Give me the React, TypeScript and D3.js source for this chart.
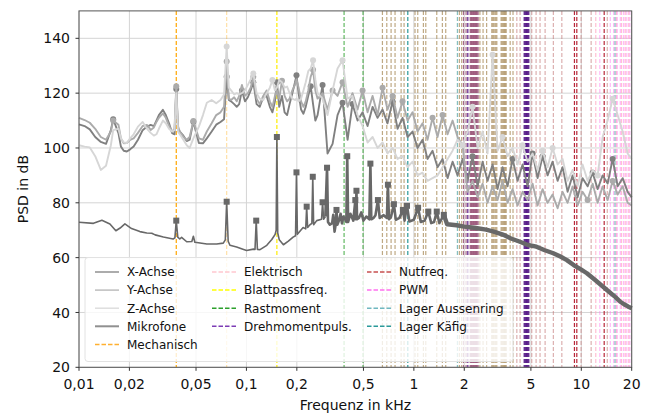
import * as d3 from "d3";
import { useEffect, useRef } from "react";

// axis ticks
const xTickValues = [0.01, 0.02, 0.05, 0.1, 0.2, 0.5, 1, 2, 5, 10, 20];
const xTickLabels = ["0,01", "0,02", "0,05", "0,1", "0,2", "0,5", "1", "2", "5", "10", "20"];
const yTickValues = [20, 40, 60, 80, 100, 120, 140];

// frequency grid of the accelerometer spectra (kHz)
const vibFreqs = [
  0.010, 0.0108, 0.0116, 0.0125, 0.0135, 0.0145, 0.0155, 0.016, 0.0172, 0.0178,
  0.0185, 0.0193, 0.0202, 0.0212, 0.0225, 0.024, 0.0255, 0.0268, 0.028, 0.029,
  0.030, 0.0317, 0.033, 0.0345, 0.036, 0.0372, 0.0381, 0.039, 0.040, 0.042,
  0.044, 0.0458, 0.0482, 0.052, 0.055, 0.058, 0.062, 0.066, 0.070, 0.0735,
  0.0762, 0.0785, 0.081, 0.0845, 0.0875, 0.0905, 0.094, 0.098, 0.102, 0.106,
  0.110, 0.115, 0.120, 0.126, 0.132, 0.138, 0.143, 0.148, 0.152, 0.157,
  0.163, 0.169, 0.175, 0.181, 0.188, 0.195, 0.199, 0.205, 0.212, 0.219,
  0.226, 0.234, 0.242, 0.250, 0.258, 0.266,
  0.285, 0.305, 0.327, 0.350, 0.375, 0.402, 0.430, 0.461, 0.494, 0.529,
  0.567, 0.607, 0.650, 0.696, 0.746, 0.799, 0.856, 0.917, 0.982, 1.052,
  1.127, 1.207, 1.293, 1.385, 1.484, 1.590, 1.703, 1.824, 1.954, 2.093,
  2.242, 2.402, 2.573, 2.756, 2.952, 3.162, 3.387, 3.628, 3.887, 4.164,
  4.460, 4.778, 5.118, 5.482, 5.873, 6.291, 6.739, 7.219, 7.733, 8.284,
  8.874, 9.506, 10.18, 10.91, 11.69, 12.52, 13.41, 14.37, 15.39, 16.49,
  17.66, 18.92, 20.0,
];

// PSD in dB
const xAchse = [
  108.6, 108, 106.8, 104, 102.2, 101.5, 106.5, 110.5, 105.4, 100.5,
  99, 98.7, 99.5, 100.5, 103, 106.5, 107.8, 108.4, 108, 110,
  112, 113.9, 112, 109, 105.4, 105, 121.5, 107, 106, 104.5,
  102.5, 103, 109.6, 101.8, 101.7, 103.5, 106, 108.5, 109.5, 110.5,
  126, 117.5, 117, 116, 115, 116, 121, 117, 118.5, 121,
  124, 116, 115, 118.5, 119, 115, 113, 117, 124, 115,
  119, 113, 112, 116, 120, 124, 126.5, 120, 114, 112.5,
  115, 119, 122.5, 116, 110, 112,
  123, 98, 101.5, 112, 116.5, 103, 116, 110, 113, 108,
  115, 111, 114, 109, 117, 107, 111, 104, 106, 100,
  103, 96, 99, 93, 96, 89, 95, 90, 96, 88,
  97, 86, 95, 88, 94, 85, 93, 86, 96, 88,
  94, 86, 98, 89, 97, 90, 95, 88, 93, 84,
  90, 82, 89, 86, 91, 85, 90, 87, 96, 86,
  89, 84, 82,
];
const yAchse = [
  111, 110.2, 109.2, 107, 104, 103, 106, 110, 108.5, 103.5,
  101.7, 101.8, 103, 103.5, 105.5, 108, 108.4, 106.6, 107.5, 109.5,
  111, 112.6, 111, 108, 106, 107, 122.5, 108, 106, 104,
  103, 104, 109.8, 103.5, 103, 106, 109, 112, 113, 115,
  131.5, 118, 117.5, 118.5, 117, 119, 123, 119, 120, 122,
  126, 118, 116, 119, 121, 117, 115, 119, 121, 118,
  124.5, 119, 117, 118, 121, 123, 125, 122, 117, 115,
  117, 121, 126, 128.5, 121, 118,
  120, 114, 121, 119, 124, 115, 120, 114, 121, 113,
  119, 112, 122, 114, 119, 111, 117, 110, 113, 106,
  109, 103, 111, 104, 112, 105, 110, 104, 101, 84,
  88, 82, 87, 80, 86, 81, 88, 80, 85, 79,
  84, 81, 87, 79, 85, 80, 83, 78, 84, 80,
  86, 79, 84, 81, 87, 80, 86, 81, 88, 83,
  86, 80, 79,
];
const zAchse = [
  101, 100.5, 100.2, 97, 92, 93.5, 101, 106.5, 107, 103.5,
  102, 101.8, 103.5, 105, 107.8, 109.5, 107, 105.5, 104.5, 105,
  107, 110, 109, 107, 106, 106.5, 120, 106, 105, 103,
  101, 100, 103.5, 107.8, 112, 116.5, 117.5, 116.3, 117.5, 119.5,
  137, 122, 121, 119.5, 120, 119.5, 120, 121, 123, 125,
  127.2, 120, 118, 117.5, 120, 122, 124.8, 121, 122, 124.8,
  124, 122, 122.4, 120, 118, 117.5, 118, 117, 118, 121,
  124, 128, 129, 132, 125, 120,
  118, 112, 121, 129, 132, 118, 119, 112, 108, 102,
  104, 100, 102, 98, 100, 96, 97, 93, 95, 90,
  91, 88, 89, 90, 93, 96, 99, 103, 101, 106,
  115, 100, 106, 98, 134, 99, 104, 97, 100, 94,
  101, 95, 98, 92, 99, 93, 100, 94, 96, 88,
  92, 86, 94, 88, 92, 90, 104, 110, 118, 112,
  106, 98, 96,
];

// detected peaks (kHz)
const xAchsePeaks = [0.016, 0.0381, 0.0482, 0.0762, 0.094, 0.110, 0.152, 0.199, 0.242, 0.285, 0.375, 0.430, 0.746, 2.242, 3.887, 5.118, 5.873, 11.69, 15.39];
const yAchsePeaks = [0.016, 0.0381, 0.0482, 0.0762, 0.110, 0.163, 0.250, 0.327, 0.375, 0.494, 0.650, 0.746, 0.856, 1.293, 1.484, 10.91, 15.39];
const zAchsePeaks = [0.0762, 0.110, 0.143, 0.250, 0.375, 1.954, 2.242, 2.952, 3.387, 4.460, 5.873, 6.739, 12.52, 15.39];

const mikrofone: [number, number][] = [
  [0.010, 72.9], [0.0122, 72.5], [0.0137, 73.6], [0.0153, 72.3], [0.0166, 69.8], [0.0176, 70.8],
  [0.0188, 72.3], [0.0206, 70.6], [0.0231, 69.5], [0.0254, 69.0], [0.0272, 68.9], [0.0285, 68.3],
  [0.0319, 67.5], [0.0365, 66.8], [0.0374, 67.2], [0.0381, 73.5], [0.0389, 67.5], [0.040, 66.8],
  [0.041, 67.4], [0.044, 65.8], [0.0472, 65.9], [0.0482, 67.8], [0.0492, 65.6], [0.0505, 65.5],
  [0.058, 65.0], [0.0664, 65.0], [0.0727, 65.3], [0.0748, 66.5], [0.0762, 80.4], [0.0778, 66],
  [0.0797, 64.5], [0.0874, 63.9], [0.0962, 63.0], [0.1002, 62.6], [0.1101, 63.1], [0.1125, 63],
  [0.1144, 73.5], [0.1163, 63], [0.1205, 62.9], [0.1323, 64.5], [0.1417, 66.6], [0.1484, 68.5],
  [0.1505, 70], [0.152, 104], [0.1538, 69], [0.1571, 66.5], [0.1663, 64.7], [0.178, 66],
  [0.19, 67.5], [0.1965, 68], [0.199, 91.1], [0.2015, 68.5], [0.208, 69.5], [0.218, 71],
  [0.226, 70.5], [0.229, 78.6], [0.232, 71], [0.2395, 72], [0.246, 72.5], [0.249, 89.5],
  [0.252, 72], [0.2628, 73.5], [0.281, 74], [0.285, 80.2], [0.289, 74], [0.296, 75],
  [0.303, 92.8], [0.307, 73], [0.315, 72], [0.325, 72.6], [0.33, 75.6], [0.336, 69.5],
  [0.341, 72], [0.345, 77.4], [0.349, 72], [0.357, 73.5], [0.365, 76], [0.372, 72.5],
  [0.38, 75], [0.395, 73], [0.40, 97], [0.405, 73], [0.418, 76], [0.435, 73.5],
  [0.447, 81], [0.450, 74], [0.454, 84.4], [0.458, 74], [0.47, 74.5], [0.485, 76.5],
  [0.50, 73.5], [0.52, 75], [0.542, 74], [0.55, 94.3], [0.557, 74], [0.575, 74.5],
  [0.59, 75.5], [0.61, 81], [0.625, 74.5], [0.66, 75.5], [0.69, 74.5], [0.70, 86.6],
  [0.71, 74], [0.73, 74.8], [0.76, 79.5], [0.78, 73.8], [0.82, 74.5], [0.86, 77.4],
  [0.88, 73.5], [0.91, 78.9], [0.94, 73.2], [1.0, 73.8], [1.06, 78.2], [1.10, 73],
  [1.16, 73.5], [1.22, 76.8], [1.27, 72.6], [1.32, 73], [1.37, 76.8], [1.42, 72.6],
  [1.51, 75.6], [1.58, 72.2], [1.8, 71.8], [2.0, 71.3], [2.3, 70.9], [2.7, 70.2],
  [3.0, 69.5], [3.4, 68.4], [3.8, 67.0], [4.3, 65.8], [4.8, 64.6], [5.4, 64.0],
  [6.0, 62.8], [6.8, 61.6], [7.5, 60.4], [8.2, 59.1], [9.0, 57.3], [10.0, 55.6],
  [10.8, 54.3], [12.0, 52.0], [13.5, 49.4], [15.0, 47.0], [16.0, 45.6], [17.1, 43.9],
  [18.0, 43.0], [19.0, 42.2], [20.0, 41.5],
];
const mikrofonePeaks = [0.0381, 0.0762, 0.1144, 0.152, 0.199, 0.229, 0.249, 0.285, 0.303, 0.345, 0.40, 0.447, 0.454, 0.55, 0.61, 0.70, 0.76, 0.86, 0.91, 1.06, 1.22, 1.37, 1.51];

// characteristic frequencies (kHz)
const mechanisch = [0.0381];
const mechanischHarm = [0.0762];
const elektrisch = [12.2, 16.2, 17.4, 18.3, 19.2];
const blattpass = [0.152];
const rastmoment = [0.383, 0.497];
const drehmoment = [2.1, 4.56, 4.61, 4.66, 4.71, 4.76, 4.81, 4.86];
const nutfreq = [9.1, 9.4, 13.7];
const nutHarm = [4.12, 4.31, 5.06, 5.37, 5.67, 6.08, 6.81, 7.65, 9.97, 11.45, 14.3];
const pwm = [12.9, 14.9, 15.6, 16.4, 17.1, 17.9, 18.7, 19.5];
const lagerAussenring = [1.82, 15.9];
const lagerKaefig = [0.92];
const lagerInnenring = [
  0.649, 0.689, 0.731, 0.772, 0.839, 0.874, 1.016, 1.055, 1.14, 1.178, 1.37, 1.48, 1.55,
  1.87, 1.93, 2.48, 2.59, 2.72, 2.92, 2.96, 3.0, 3.05, 3.09, 3.13, 3.32, 3.36, 3.40, 3.44,
  3.48, 3.52, 3.56, 3.76, 3.91,
];
const lagerWaelz = [1.98, 2.05, 2.17, 2.19, 2.21, 2.23, 2.25, 2.27, 2.29, 2.31, 2.33, 2.35, 2.37, 2.39, 2.42];

const Chart = () => {
  const ref = useRef<SVGSVGElement>(null);

  useEffect(() => {
    const width = 653, height = 414;
    const left = 79, right = 631.7, top = 10.9, bottom = 367.3;

    const svg = d3.select(ref.current);
    svg.selectAll("*").remove();

    const x = d3.scaleLog().domain([0.01, 20]).range([left, right]);
    const y = d3.scaleLinear().domain([20, 150]).range([bottom, top]);

    svg.append("rect").attr("width", width).attr("height", height).attr("fill", "#fff");

    // grid
    svg.append("g").selectAll("line").data(xTickValues).join("line")
      .attr("x1", (d) => x(d)).attr("x2", (d) => x(d))
      .attr("y1", top).attr("y2", bottom)
      .attr("stroke", "#d4d4d4").attr("stroke-width", 1);
    svg.append("g").selectAll("line").data(yTickValues).join("line")
      .attr("x1", left).attr("x2", right)
      .attr("y1", (d) => y(d)).attr("y2", (d) => y(d))
      .attr("stroke", "#d4d4d4").attr("stroke-width", 1);

    // vertical marker lines
    const cats = [
      { freqs: lagerInnenring, color: "#b49a6e", opacity: 0.85 },
      { freqs: lagerWaelz, color: "#9c5a7c", opacity: 0.9 },
      { freqs: nutHarm, color: "#c07070", opacity: 0.55 },
      { freqs: elektrisch, color: "#ffb0c8", opacity: 0.8 },
      { freqs: mechanischHarm, color: "#ffa500", opacity: 0.35 },
      { freqs: mechanisch, color: "#ffa500", opacity: 1 },
      { freqs: blattpass, color: "#ffee00", opacity: 1 },
      { freqs: rastmoment, color: "#2ca02c", opacity: 0.75 },
      { freqs: drehmoment, color: "#5a1f8a", opacity: 1 },
      { freqs: nutfreq, color: "#b8283a", opacity: 1 },
      { freqs: pwm, color: "#ff80f0", opacity: 0.55 },
      { freqs: lagerAussenring, color: "#78b8b8", opacity: 0.9 },
      { freqs: lagerKaefig, color: "#2a9a9a", opacity: 1 },
    ];
    cats.forEach((c) => {
      svg.append("g").selectAll("line").data(c.freqs).join("line")
        .attr("x1", (d) => x(d)).attr("x2", (d) => x(d))
        .attr("y1", top).attr("y2", bottom)
        .attr("stroke", c.color).attr("stroke-opacity", c.opacity)
        .attr("stroke-width", 1.2).attr("stroke-dasharray", "4,2");
    });

    // spectra
    const line = d3.line<[number, number]>().x((d) => x(d[0])).y((d) => y(d[1]));
    const series = [
      { vals: xAchse, peaks: xAchsePeaks, color: "#808080" },
      { vals: yAchse, peaks: yAchsePeaks, color: "#ababab" },
      { vals: zAchse, peaks: zAchsePeaks, color: "#d6d6d6" },
    ];
    series.forEach((s) => {
      const pts: [number, number][] = vibFreqs.map((f, i) => [f, s.vals[i]]);
      svg.append("path").datum(pts).attr("d", line)
        .attr("fill", "none").attr("stroke", s.color).attr("stroke-width", 1.9)
        .attr("stroke-linejoin", "round");
      const peakPts = s.peaks.map((f) => pts[d3.minIndex(pts, (p) => Math.abs(Math.log(p[0] / f)))]);
      svg.append("g").selectAll("circle").data(peakPts).join("circle")
        .attr("cx", (d) => x(d[0])).attr("cy", (d) => y(d[1])).attr("r", 3)
        .attr("fill", s.color);
    });

    // microphone: noise band thickens towards high frequencies
    const micParts = [
      { from: 0, to: 0.3, w: 1.6 },
      { from: 0.29, to: 1.6, w: 2.6 },
      { from: 1.5, to: 21, w: 4.4 },
    ];
    micParts.forEach((p) => {
      svg.append("path").datum(mikrofone.filter((d) => d[0] >= p.from && d[0] <= p.to))
        .attr("d", line).attr("fill", "none").attr("stroke", "#686868")
        .attr("stroke-width", p.w).attr("stroke-linejoin", "round");
    });
    const micPeakPts = mikrofonePeaks.map((f) => mikrofone[d3.minIndex(mikrofone, (p) => Math.abs(Math.log(p[0] / f)))]);
    svg.append("g").selectAll("rect").data(micPeakPts).join("rect")
      .attr("x", (d) => x(d[0]) - 3).attr("y", (d) => y(d[1]) - 3)
      .attr("width", 6).attr("height", 6).attr("fill", "#686868");

    // frame
    svg.append("rect").attr("x", left).attr("y", top)
      .attr("width", right - left).attr("height", bottom - top)
      .attr("fill", "none").attr("stroke", "#555").attr("stroke-width", 1);

    // ticks + labels
    const font = "DejaVu Sans";
    svg.append("g").selectAll("line").data(xTickValues).join("line")
      .attr("x1", (d) => x(d)).attr("x2", (d) => x(d))
      .attr("y1", bottom).attr("y2", bottom + 3.5).attr("stroke", "#333");
    svg.append("g").selectAll("text").data(xTickValues).join("text")
      .attr("x", (d) => x(d)).attr("y", 388.5).attr("text-anchor", "middle")
      .attr("font-family", font).attr("font-size", 14).attr("fill", "#111")
      .text((d, i) => xTickLabels[i]);
    svg.append("g").selectAll("line").data(yTickValues).join("line")
      .attr("x1", left - 3.5).attr("x2", left)
      .attr("y1", (d) => y(d)).attr("y2", (d) => y(d)).attr("stroke", "#333");
    svg.append("g").selectAll("text").data(yTickValues).join("text")
      .attr("x", 70).attr("y", (d) => y(d)).attr("dy", "0.36em").attr("text-anchor", "end")
      .attr("font-family", font).attr("font-size", 14).attr("fill", "#111")
      .text((d) => d);

    svg.append("text").attr("x", (left + right) / 2).attr("y", 410)
      .attr("text-anchor", "middle").attr("font-family", font).attr("font-size", 14)
      .attr("fill", "#111").text("Frequenz in kHz");
    svg.append("text").attr("transform", `translate(28,${(top + bottom) / 2}) rotate(-90)`)
      .attr("text-anchor", "middle").attr("font-family", font).attr("font-size", 14)
      .attr("fill", "#111").text("PSD in dB");

    // legend
    const lg = svg.append("g");
    lg.append("rect").attr("x", 85).attr("y", 257.5).attr("width", 428).attr("height", 104)
      .attr("rx", 3).attr("fill", "#fff").attr("fill-opacity", 0.8)
      .attr("stroke", "#e2e2e2").attr("stroke-width", 1);
    const legendItems = [
      { label: "X-Achse", color: "#909090", dash: null, w: 1.5, col: 0, row: 0 },
      { label: "Y-Achse", color: "#bdbdbd", dash: null, w: 1.5, col: 0, row: 1 },
      { label: "Z-Achse", color: "#dedede", dash: null, w: 1.5, col: 0, row: 2 },
      { label: "Mikrofone", color: "#909090", dash: null, w: 2, col: 0, row: 3 },
      { label: "Mechanisch", color: "#ffb030", dash: "4.5,2", w: 1.5, col: 0, row: 4 },
      { label: "Elektrisch", color: "#ffc8d0", dash: "4.5,2", w: 1.5, col: 1, row: 0 },
      { label: "Blattpassfreq.", color: "#ffff00", dash: "4.5,2", w: 1.5, col: 1, row: 1 },
      { label: "Rastmoment", color: "#2ca02c", dash: "4.5,2", w: 1.5, col: 1, row: 2 },
      { label: "Drehmomentpuls.", color: "#7d3cb5", dash: "4.5,2", w: 1.5, col: 1, row: 3 },
      { label: "Nutfreq.", color: "#c85050", dash: "4.5,2", w: 1.5, col: 2, row: 0 },
      { label: "PWM", color: "#ff70f0", dash: "4.5,2", w: 1.5, col: 2, row: 1 },
      { label: "Lager Aussenring", color: "#70b8c0", dash: "4.5,2", w: 1.5, col: 2, row: 2 },
      { label: "Lager Käfig", color: "#2a9a9a", dash: "4.5,2", w: 1.5, col: 2, row: 3 },
    ];
    const colX = [95, 212, 367];
    legendItems.forEach((it) => {
      const cy = 272 + it.row * 18.1;
      const x0 = colX[it.col];
      lg.append("line").attr("x1", x0).attr("x2", x0 + 24).attr("y1", cy).attr("y2", cy)
        .attr("stroke", it.color).attr("stroke-width", it.w)
        .attr("stroke-dasharray", it.dash);
      lg.append("text").attr("x", x0 + 32).attr("y", cy).attr("dy", "0.36em")
        .attr("font-family", font).attr("font-size", 12).attr("fill", "#111")
        .text(it.label);
    });
  }, []);

  return (
    <svg
      ref={ref}
      width={653}
      height={414}
      style={{ position: "absolute", left: 0, top: 0 }}
    />
  );
};

export default Chart;
